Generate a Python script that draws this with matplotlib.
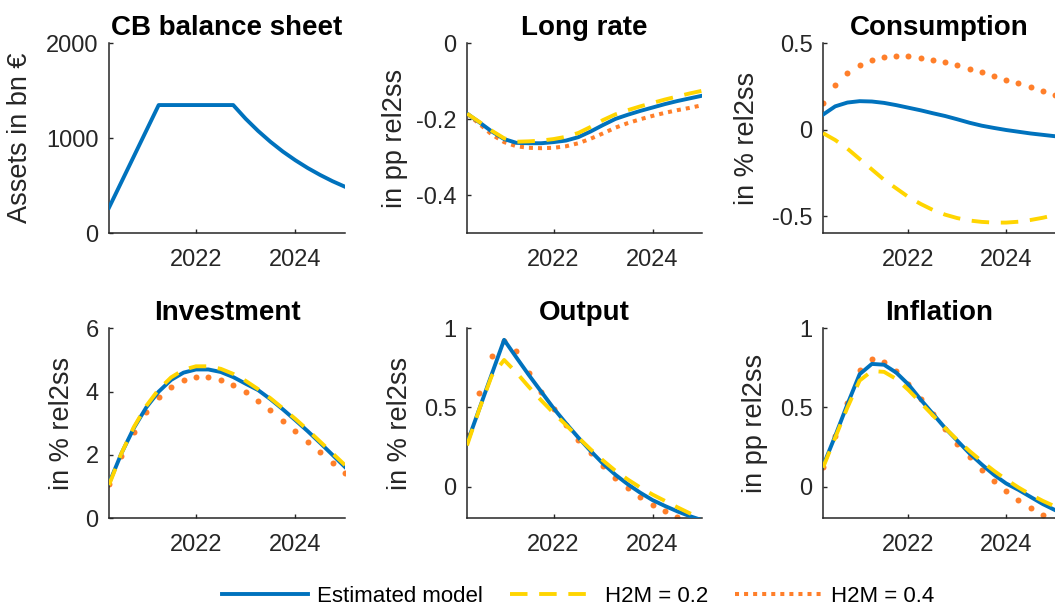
import numpy as np
import matplotlib
matplotlib.use('Agg')
import matplotlib.pyplot as plt

plt.rcParams['font.family'] = ['Liberation Sans', 'DejaVu Sans']
plt.rcParams['axes.unicode_minus'] = False

# quarterly dates, 2020Q2 .. 2025Q1
t = [2020.25, 2020.5, 2020.75, 2021.0, 2021.25, 2021.5, 2021.75, 2022.0,
     2022.25, 2022.5, 2022.75, 2023.0, 2023.25, 2023.5, 2023.75, 2024.0,
     2024.25, 2024.5, 2024.75, 2025.0]

cb_assets = [270, 540, 810, 1080, 1350, 1350, 1350, 1350, 1350, 1350, 1350,
             1206, 1078, 963, 860, 769, 687, 614, 548, 490]

lr_est = [-0.185, -0.208, -0.232, -0.252, -0.262, -0.263, -0.263, -0.260, -0.256, -0.247,
          -0.232, -0.215, -0.199, -0.188, -0.178, -0.169, -0.160, -0.152, -0.145, -0.138]
lr_h02 = [-0.185, -0.207, -0.230, -0.250, -0.259, -0.258, -0.256, -0.252, -0.246, -0.236,
          -0.220, -0.202, -0.187, -0.176, -0.166, -0.157, -0.148, -0.140, -0.132, -0.125]
lr_h04 = [-0.185, -0.212, -0.240, -0.260, -0.271, -0.275, -0.276, -0.275, -0.271, -0.263,
          -0.251, -0.237, -0.222, -0.210, -0.200, -0.191, -0.183, -0.176, -0.170, -0.163]

cons_est = [0.087, 0.135, 0.157, 0.165, 0.163, 0.155, 0.142, 0.127, 0.112, 0.095,
            0.079, 0.060, 0.040, 0.023, 0.010, -0.002, -0.012, -0.022, -0.030, -0.038]
cons_h02 = [-0.02, -0.06, -0.11, -0.17, -0.23, -0.29, -0.34, -0.39, -0.43, -0.465,
            -0.492, -0.512, -0.526, -0.534, -0.538, -0.538, -0.533, -0.523, -0.51, -0.494]
cons_h04 = [0.155, 0.257, 0.327, 0.373, 0.401, 0.418, 0.424, 0.424, 0.417, 0.405,
            0.391, 0.372, 0.353, 0.333, 0.312, 0.289, 0.269, 0.246, 0.225, 0.203]

inv_est = [1.10, 2.05, 2.85, 3.50, 4.00, 4.37, 4.60, 4.70, 4.70, 4.62,
           4.46, 4.25, 4.05, 3.76, 3.44, 3.10, 2.75, 2.38, 2.00, 1.62]
inv_h02 = [1.05, 2.05, 2.88, 3.55, 4.07, 4.45, 4.69, 4.80, 4.80, 4.72,
           4.56, 4.34, 4.08, 3.79, 3.47, 3.14, 2.79, 2.42, 2.05, 1.68]
inv_h04 = [1.07, 1.98, 2.74, 3.35, 3.82, 4.16, 4.37, 4.46, 4.46, 4.37,
           4.21, 3.98, 3.70, 3.41, 3.08, 2.76, 2.42, 2.08, 1.76, 1.44]

out_est = [0.274, 0.492, 0.71, 0.927, 0.815, 0.705, 0.60, 0.495, 0.40, 0.31,
           0.225, 0.145, 0.075, 0.015, -0.038, -0.085, -0.122, -0.156, -0.186, -0.212]
out_h02 = [0.26, 0.49, 0.70, 0.80, 0.72, 0.63, 0.545, 0.465, 0.39, 0.31,
           0.235, 0.165, 0.10, 0.045, -0.005, -0.05, -0.09, -0.13, -0.168, -0.20]
out_h04 = [0.327, 0.594, 0.826, 0.92, 0.859, 0.72, 0.60, 0.491, 0.39, 0.295,
           0.211, 0.131, 0.057, -0.01, -0.067, -0.116, -0.156, -0.194, -0.23, -0.26]

infl_est = [0.13, 0.32, 0.52, 0.71, 0.775, 0.77, 0.72, 0.645, 0.55, 0.46,
            0.37, 0.29, 0.21, 0.14, 0.075, 0.02, -0.02, -0.065, -0.11, -0.148]
infl_h02 = [0.12, 0.31, 0.50, 0.67, 0.73, 0.725, 0.68, 0.61, 0.53, 0.45,
            0.37, 0.295, 0.225, 0.16, 0.10, 0.045, -0.005, -0.05, -0.09, -0.125]
infl_h04 = [0.126, 0.32, 0.529, 0.737, 0.805, 0.79, 0.733, 0.647, 0.554, 0.459,
            0.364, 0.272, 0.186, 0.105, 0.034, -0.029, -0.086, -0.137, -0.179, -0.22]

titles = ['CB balance sheet', 'Long rate', 'Consumption', 'Investment', 'Output', 'Inflation']
ylabels = ['Assets in bn €', 'in pp rel2ss', 'in % rel2ss', 'in % rel2ss', 'in % rel2ss', 'in pp rel2ss']
ylims = [(0, 2000), (-0.5, 0), (-0.6, 0.5), (0, 6), (-0.2, 1), (-0.2, 1)]
yticks = [[0, 1000, 2000], [-0.4, -0.2, 0], [-0.5, 0, 0.5], [0, 2, 4, 6], [0, 0.5, 1], [0, 0.5, 1]]
yticklabels = [['0', '1000', '2000'], ['-0.4', '-0.2', '0'], ['-0.5', '0', '0.5'],
               ['0', '2', '4', '6'], ['0', '0.5', '1'], ['0', '0.5', '1']]
xticks = [2022, 2024]
legend_labels = ['Estimated model', 'H2M = 0.2', 'H2M = 0.4']

BLUE = '#0072BD'
YELLOW = '#FFD500'
ORANGE = '#FF7F2A'
AXC = '#262626'

W, H = 1055, 612
fig = plt.figure(figsize=(W / 100, H / 100), dpi=100)

lefts = [109, 467, 823]
widths = [236, 235, 232]
tops = [43.3, 328.3]
ah = 190
label_x = [-0.322, -0.251, -0.272, -0.144, -0.230, -0.237]

axes = []
for r in range(2):
    for c in range(3):
        ax = fig.add_axes([lefts[c] / W, 1 - (tops[r] + ah) / H, widths[c] / W, ah / H])
        axes.append(ax)

series = [
    (cb_assets, None, None),
    (lr_est, lr_h02, lr_h04),
    (cons_est, cons_h02, cons_h04),
    (inv_est, inv_h02, inv_h04),
    (out_est, out_h02, out_h04),
    (infl_est, infl_h02, infl_h04),
]

legend_handles = None
for i, ax in enumerate(axes):
    est, h02, h04 = series[i]
    if h04 is not None:
        if i == 1:
            l3, = ax.plot(t, h04, color=ORANGE, lw=2.9, linestyle=(0, (1, 1.25)),
                          dash_capstyle='butt', zorder=2)
        else:
            ax.plot(t, h04, 'o', color=ORANGE, ms=4.3, mew=0, zorder=2)
    l1, = ax.plot(t, est, color=BLUE, lw=2.8, zorder=3)
    if h02 is not None:
        l2, = ax.plot(t, h02, color=YELLOW, lw=2.8, linestyle=(0, (4.5, 3)), zorder=4)
    if i == 1:
        legend_handles = [l1, l2, l3]

    ax.set_xlim(t[0], t[-1])
    ax.set_ylim(*ylims[i])
    ax.set_xticks(xticks)
    ax.set_xticklabels([str(x) for x in xticks])
    ax.set_yticks(yticks[i])
    ax.set_yticklabels(yticklabels[i])
    ax.set_title(titles[i], fontsize=20, fontweight='bold', pad=6)
    ax.set_ylabel(ylabels[i], fontsize=19.5, color=AXC)
    ax.yaxis.set_label_coords(label_x[i], 0.5)

    for s in ['top', 'right']:
        ax.spines[s].set_visible(False)
    for s in ['left', 'bottom']:
        ax.spines[s].set_color(AXC)
        ax.spines[s].set_linewidth(1.1)
    ax.tick_params(direction='in', length=3, width=1.0, colors=AXC, labelsize=17)
    ax.tick_params(axis='x', pad=11.5)
    ax.tick_params(axis='y', pad=7.5)

fig.legend(legend_handles, legend_labels, loc='center', ncol=3, frameon=False,
           fontsize=16, handlelength=3.9, handletextpad=0.4, columnspacing=1.2,
           bbox_to_anchor=(578 / W, 1 - 596 / H))

fig.savefig('out.png', dpi=100)
plt.close(fig)
